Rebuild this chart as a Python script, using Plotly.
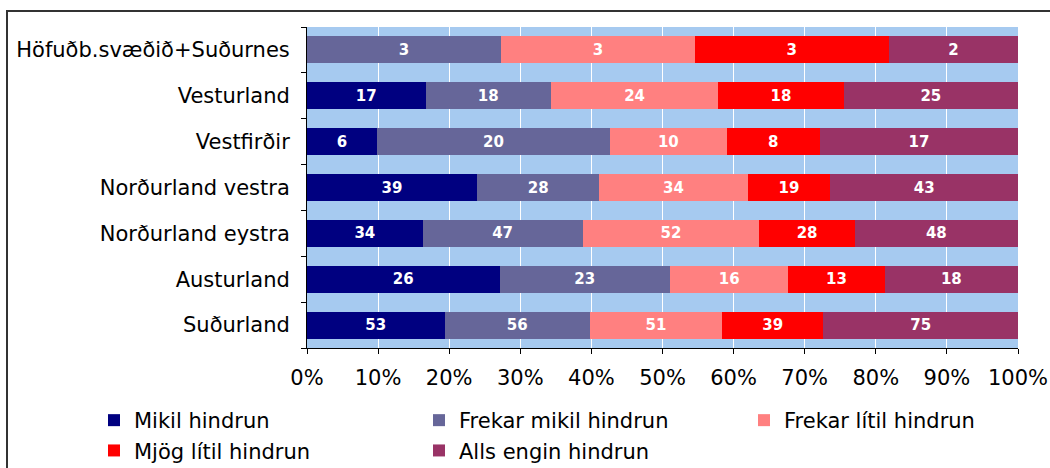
import plotly.graph_objects as go

regions = [
    "Höfuðb.svæðið+Suðurnes",
    "Vesturland",
    "Vestfirðir",
    "Norðurland vestra",
    "Norðurland eystra",
    "Austurland",
    "Suðurland",
]

series_names = [
    "Mikil hindrun",
    "Frekar mikil hindrun",
    "Frekar lítil hindrun",
    "Mjög lítil hindrun",
    "Alls engin hindrun",
]

mikil = [0, 17, 6, 39, 34, 26, 53]
frekar_mikil = [3, 18, 20, 28, 47, 23, 56]
frekar_litil = [3, 24, 10, 34, 52, 16, 51]
mjog_litil = [3, 18, 8, 19, 28, 13, 39]
alls_engin = [2, 25, 17, 43, 48, 18, 75]

series_values = [mikil, frekar_mikil, frekar_litil, mjog_litil, alls_engin]
colors = ["#000080", "#666699", "#FF8080", "#FF0000", "#993366"]

x_ticks = list(range(0, 101, 10))
x_tick_labels = [f"{t}%" for t in x_ticks]

PLOT_L, PLOT_R, PLOT_T, PLOT_B = 307, 1018, 27, 348
PW, PH = PLOT_R - PLOT_L, PLOT_B - PLOT_T

fig = go.Figure()
for name, vals, col in zip(series_names, series_values, colors):
    fig.add_trace(go.Bar(
        name=name,
        y=regions,
        x=vals,
        orientation="h",
        marker=dict(color=col, line=dict(width=0)),
        text=[str(v) if v else "" for v in vals],
        texttemplate="%{text}",
        textposition="inside",
        insidetextanchor="middle",
        textangle=0,
        constraintext="none",
        insidetextfont=dict(family="DejaVu Sans", size=15, color="white", weight="bold"),
        hoverinfo="skip",
    ))

fig.update_layout(
    barmode="stack",
    barnorm="percent",
    bargap=0.41,
    width=1050,
    height=468,
    margin=dict(l=PLOT_L, r=1050 - PLOT_R, t=PLOT_T, b=468 - PLOT_B, autoexpand=False),
    paper_bgcolor="white",
    plot_bgcolor="#A6CAF0",
    font=dict(family="DejaVu Sans", size=21, color="black"),
    legend=dict(
        orientation="h",
        x=(94 - PLOT_L) / PW, y=-(400 - PLOT_B) / PH,
        xanchor="left", yanchor="top",
        entrywidth=280, entrywidthmode="pixels",
        font=dict(family="DejaVu Sans", size=21),
        traceorder="normal",
        itemwidth=30,
        tracegroupgap=0,
    ),
    showlegend=True,
)

fig.update_xaxes(
    range=[0, 100],
    tickvals=x_ticks,
    ticktext=x_tick_labels,
    showgrid=True,
    gridcolor="white",
    gridwidth=1,
    zeroline=False,
    showline=True,
    linecolor="black",
    linewidth=1,
    ticks="outside",
    ticklen=5,
    tickcolor="black",
    tickfont=dict(size=21),
    ticklabelstandoff=6,
)

fig.update_yaxes(
    categoryorder="array",
    categoryarray=regions[::-1],
    showgrid=False,
    showline=True,
    linecolor="black",
    linewidth=1,
    ticks="outside",
    ticklen=5,
    tickcolor="black",
    tickson="boundaries",
    tickfont=dict(size=21),
    ticklabelstandoff=12,
)

# outer frame of the chart
fig.add_shape(
    type="rect", xref="paper", yref="paper",
    x0=(7 - PLOT_L) / PW, x1=(1100 - PLOT_L) / PW,
    y0=-(520 - PLOT_B) / PH, y1=(PLOT_B - 11) / PH,
    line=dict(color="#333333", width=2),
    fillcolor="rgba(0,0,0,0)",
    layer="below",
)

fig.write_html("out.html")
